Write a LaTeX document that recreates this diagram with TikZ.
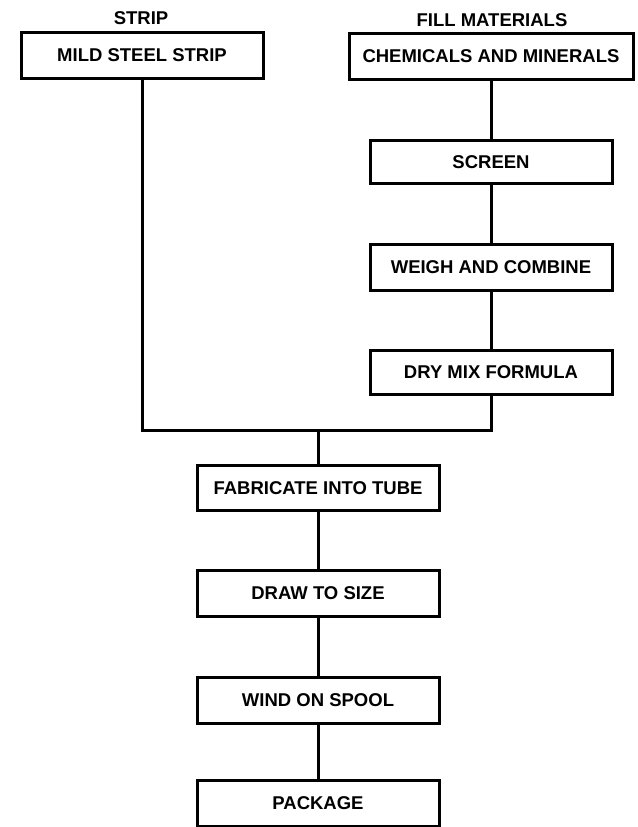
\documentclass[tikz,border=0pt]{standalone}
\usepackage{fontspec}
\setmainfont{Liberation Sans}
\begin{document}
\begin{tikzpicture}[x=1pt,y=-1pt,line width=3pt,
  box/.style={draw,rectangle,minimum width=242pt,minimum height=46pt,inner sep=0pt,font=\fontsize{18.5}{20}\selectfont\bfseries},
  head/.style={font=\fontsize{18.5}{20}\selectfont\bfseries}]
\useasboundingbox (0,0) rectangle (637,827);
\node[head] (SL) at (141,18) {STRIP};
\node[head] (FL) at (492,20) {FILL MATERIALS};
\node[box] (MS) at (142,55) {MILD STEEL STRIP};
\node[box,minimum width=284pt] (CM) at (491,56) {CHEMICALS AND MINERALS};
\node[box,minimum height=43pt] (SC) at (491,162) {SCREEN};
\node[box] (WC) at (491,267) {WEIGH AND COMBINE};
\node[box,minimum height=44pt] (DM) at (491,372) {DRY MIX FORMULA};
\node[box,minimum height=45pt] (FT) at (318,488) {FABRICATE INTO TUBE};
\node[box] (DS) at (318,593) {DRAW TO SIZE};
\node[box] (WS) at (318,700) {WIND ON SPOOL};
\node[box] (PK) at (318,803) {PACKAGE};
\coordinate (J) at (318,430);
\path
  (CM) edge (SC)
  (SC) edge (WC)
  (WC) edge (DM)
  (FT) edge (DS)
  (DS) edge (WS)
  (WS) edge (PK)
;
\draw (MS.south) |- (J);
\draw (DM.south) |- (J);
\draw (J) -- (FT.north);
\end{tikzpicture}
\end{document}
